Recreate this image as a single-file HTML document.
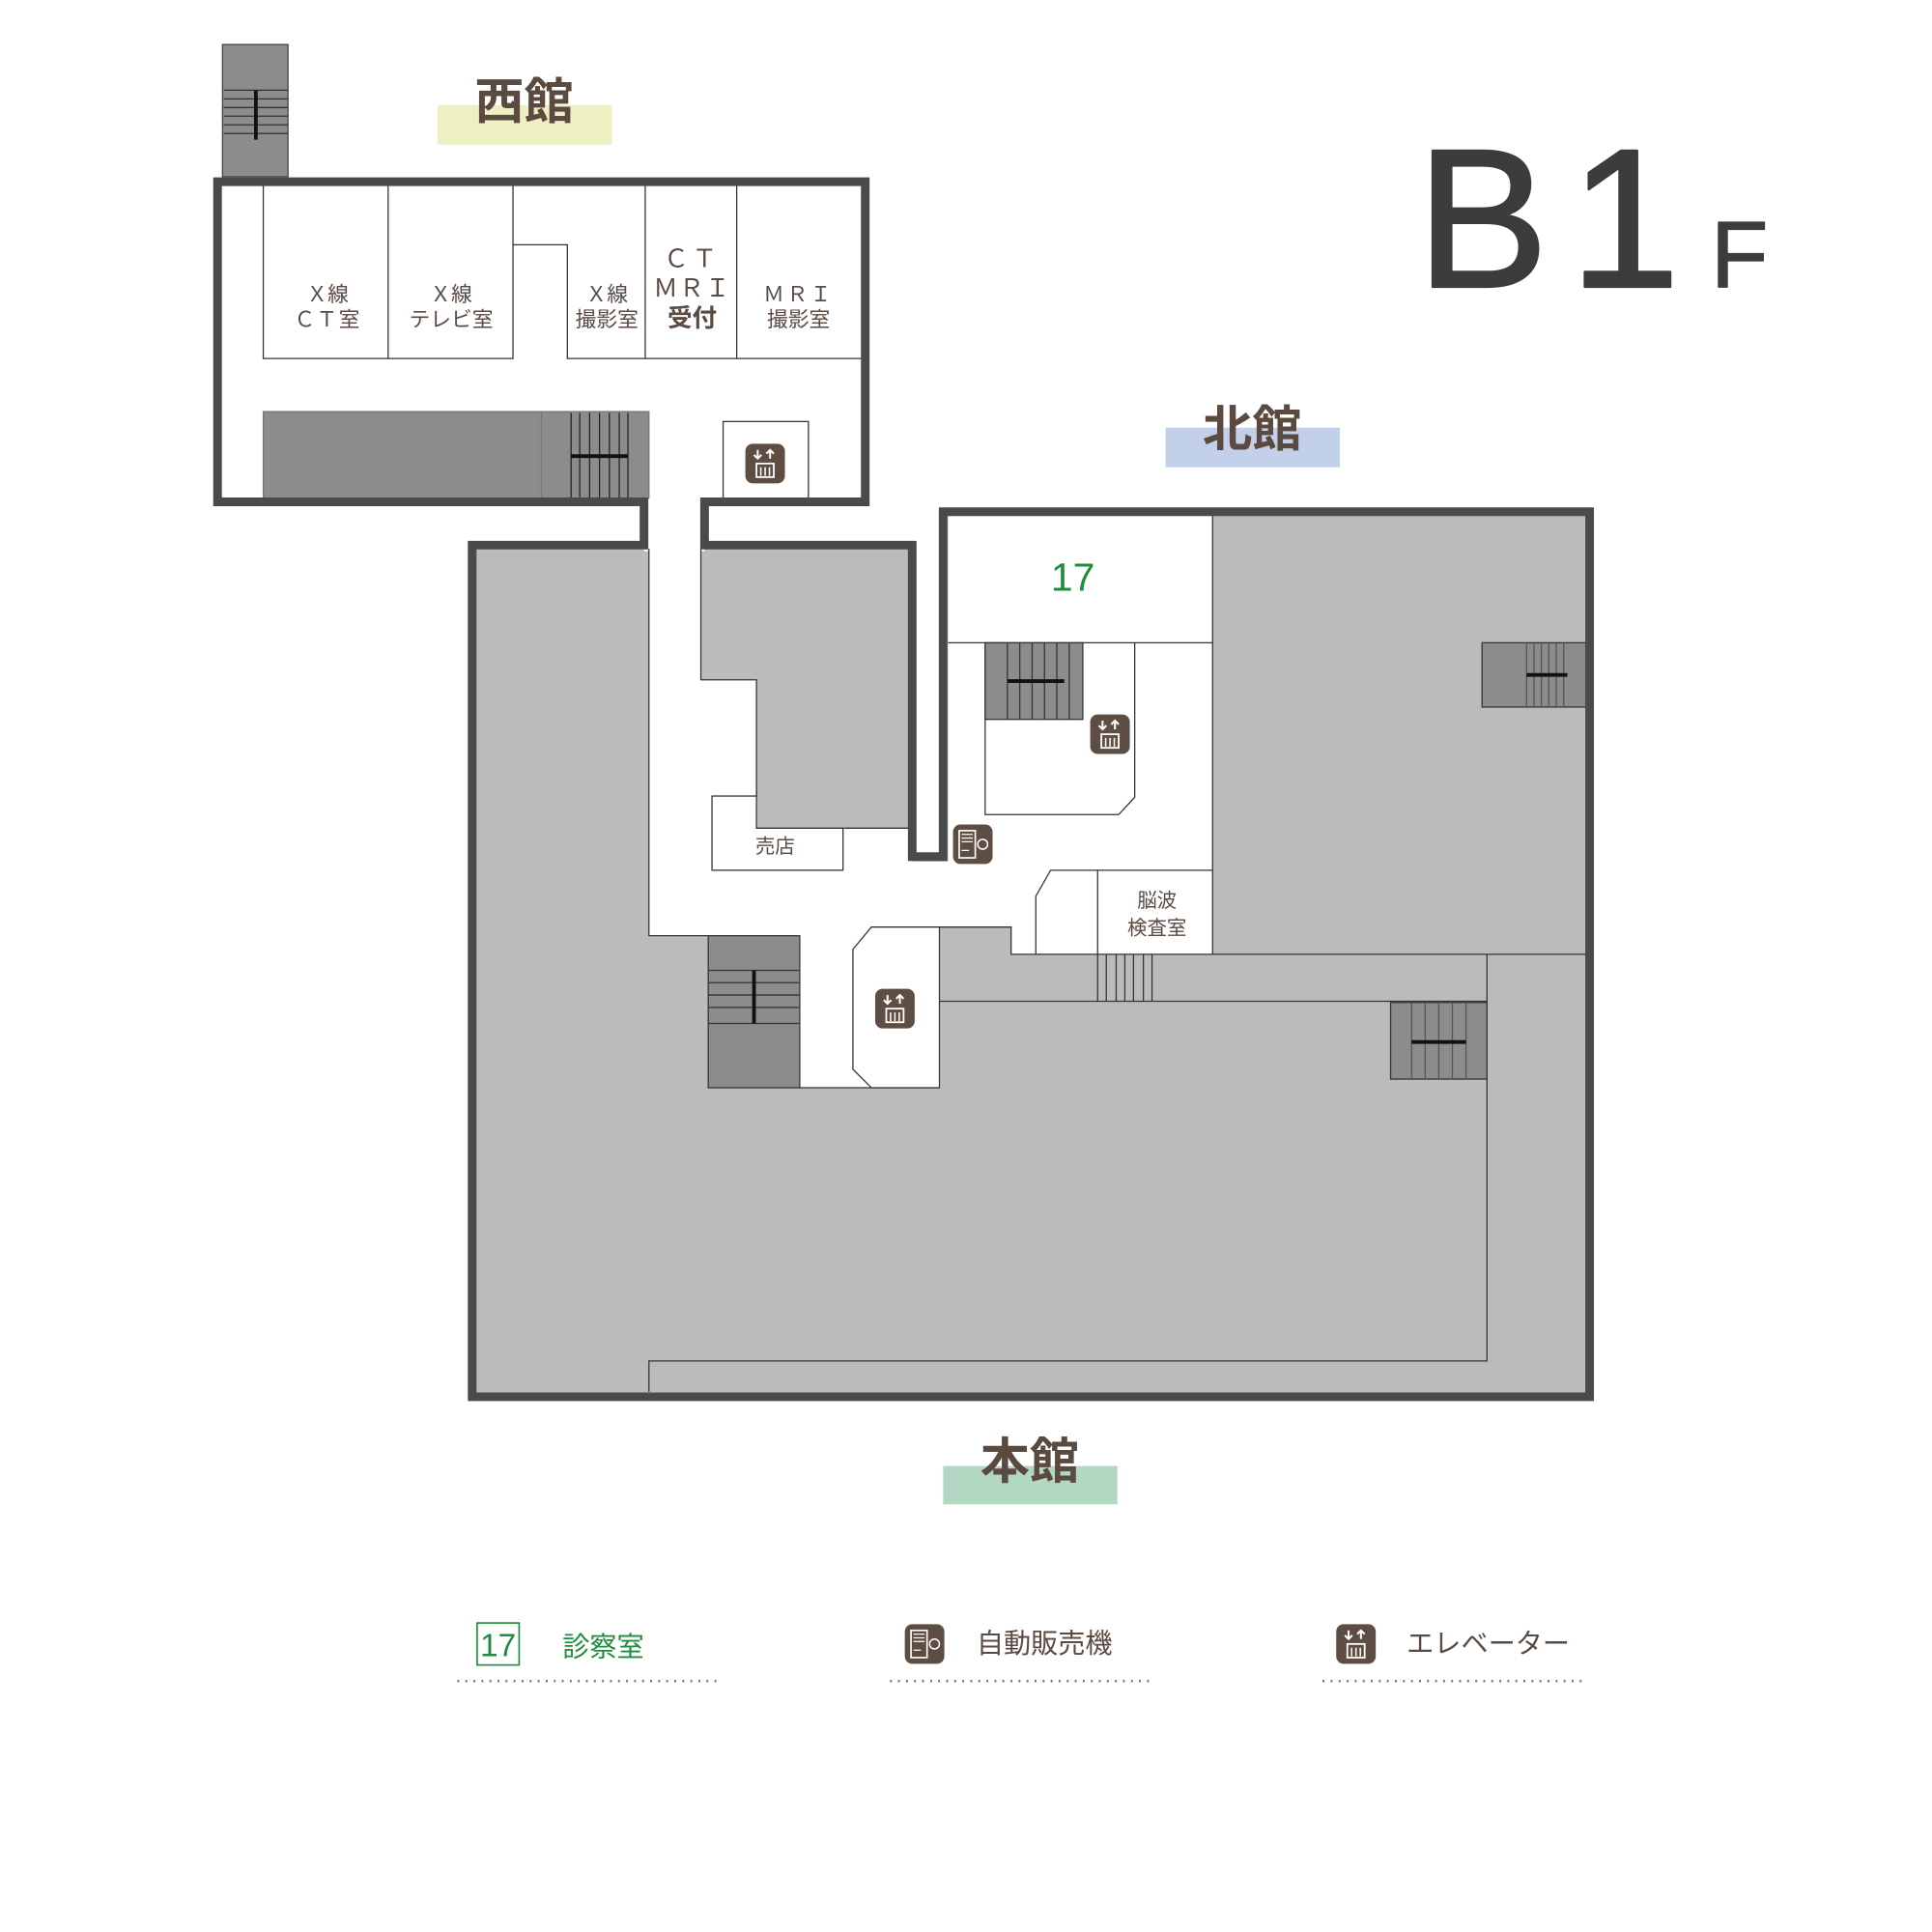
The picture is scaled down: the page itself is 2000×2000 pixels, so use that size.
<!DOCTYPE html>
<html><head><meta charset="utf-8"><style>
html,body{margin:0;padding:0;background:#fff}
svg{display:block}
text{font-family:"Liberation Sans","Noto Sans CJK JP",sans-serif}
</style></head><body>
<svg width="2000" height="2000" viewBox="0 0 1563 1563" xmlns="http://www.w3.org/2000/svg">
<defs>
<g id="elev">
<rect x="-16" y="-16" width="32" height="32" rx="6" fill="#5d4d42"/>
<path d="M-6,-11 v7 M-9,-7 l3,3 l3,-3 M4,-4 v-7 M1,-8 l3,-3 l3,3" stroke="#fff" stroke-width="1.6" fill="none"/>
<rect x="-7" y="0" width="14" height="11" fill="none" stroke="#fff" stroke-width="1.4"/>
<path d="M-3.5,3 v7 M0,3 v7 M3.5,3 v7" stroke="#fff" stroke-width="1.2"/>
</g>
<g id="vend">
<rect x="-16" y="-16" width="32" height="32" rx="6" fill="#5d4d42"/>
<rect x="-11" y="-11" width="13" height="22" fill="none" stroke="#fff" stroke-width="1.3"/>
<path d="M-9,-8 h9 M-9,-5 h9 M-9,-2 h9 M-9,5 h6" stroke="#fff" stroke-width="1"/>
<circle cx="8" cy="0" r="4" fill="none" stroke="#fff" stroke-width="1.2"/>
</g>
</defs>

<rect x="180" y="36" width="53" height="107" fill="#8c8c8c" stroke="#444" stroke-width="1"/>
<path d="M181,73 h52 M181,80 h52 M181,87 h52 M181,94 h52 M181,101 h52 M181,108 h52" stroke="#333" stroke-width="1"/>
<path d="M207,73 v40" stroke="#111" stroke-width="3"/>

<path d="M382,1130 V441 H521 V406 H176 V147 H700 V406 H570 V441 H738 V693 H763 V414 H1286 V1130 Z" fill="#bbbbbb"/>
<rect x="176" y="147" width="524" height="259" fill="#fff"/>
<rect x="521" y="400" width="49" height="46" fill="#fff"/>
<path d="M525,444 H567 V550 H612 V670 H738 V697 H767 V417 H981 V772 H818 V750 H760 V880 H647 V757 H525 Z" fill="#fff"/>

<g stroke="#333" stroke-width="1" fill="none">
<path d="M213,150 V290 H415 V150 M314,150 V290 M415,198 H459 V290 H697 M522,150 V290 M596,150 V290"/>
</g>
<rect x="213" y="333" width="312" height="70" fill="#8c8c8c" stroke="#777" stroke-width="1"/>
<path d="M438,333 V403" stroke="#777" stroke-width="1"/>
<path d="M462,334 V403 M469,334 V403 M477,334 V403 M485,334 V403 M493,334 V403 M501,334 V403 M508,334 V403" stroke="#222" stroke-width="1"/>
<path d="M462,369 H508" stroke="#111" stroke-width="3"/>
<rect x="585" y="341" width="69" height="62" fill="#fff" stroke="#333" stroke-width="1"/>
<use href="#elev" x="619" y="375"/>

<g stroke="#333" stroke-width="1" fill="none">
<path d="M567,444 V550 H612 V670 H735"/>
<rect x="576" y="644" width="106" height="60" fill="#fff"/>
<path d="M525,444 V757 H573"/>
<path d="M767,520 H981 M981,417 V772 M797,520 V659 H905 L918,645 V520"/>
<path d="M838,772 V725 L850,704 H981 M888,704 V772"/>
<path d="M760,750 H818 V772 H1283 M760,810 H1203 M1203,772 V1101 H525 V1126"/>
<path d="M888,772 V810 M895,772 V810 M903,772 V810 M910,772 V810 M917,772 V810 M925,772 V810 M932,772 V810"/>
<path d="M647,880 H760"/>
</g>
<rect x="612.5" y="642" width="71" height="28" fill="#bbbbbb"/>
<path d="M612,640 V670 H683" stroke="#333" fill="none"/>
<path d="M690,768 L705,750 H760 V880 H705 L690,865 Z" fill="#fff" stroke="#333" stroke-width="1"/>
<use href="#elev" x="724" y="816"/>

<rect x="573" y="757" width="74" height="123" fill="#8c8c8c" stroke="#333" stroke-width="1"/>
<path d="M573,785 h74 M573,795 h74 M573,805 h74 M573,815 h74 M573,828 h74" stroke="#333" stroke-width="1"/>
<path d="M610,785 V828" stroke="#111" stroke-width="3"/>

<rect x="797" y="520" width="79" height="62" fill="#8c8c8c" stroke="#333" stroke-width="1"/>
<path d="M815,520 v62 M825,520 v62 M835,520 v62 M845,520 v62 M855,520 v62 M865,520 v62" stroke="#333" stroke-width="1"/>
<path d="M815,551 H861" stroke="#111" stroke-width="3"/>
<use href="#elev" x="898" y="594"/>
<use href="#vend" x="787" y="683"/>

<rect x="1199" y="520" width="84" height="52" fill="#8c8c8c" stroke="#333" stroke-width="1"/>
<path d="M1235,520 v52 M1241,520 v52 M1247,520 v52 M1253,520 v52 M1259,520 v52 M1265,520 v52" stroke="#555" stroke-width="1"/>
<path d="M1235,546 H1268" stroke="#111" stroke-width="3"/>
<rect x="1125" y="811" width="78" height="62" fill="#8c8c8c" stroke="#333" stroke-width="1"/>
<path d="M1142,811 v62 M1153,811 v62 M1164,811 v62 M1175,811 v62 M1186,811 v62" stroke="#555" stroke-width="1"/>
<path d="M1142,843 H1186" stroke="#111" stroke-width="3"/>

<path d="M382,1130 V441 H521 V406 H176 V147 H700 V406 H570 V441 H738 V693 H763 V414 H1286 V1130 Z" fill="none" stroke="#4a4a4a" stroke-width="7"/>

<g fill="#5a4a42" font-size="17" text-anchor="middle">
<text x="265" y="244">Ｘ線</text><text x="265" y="264" letter-spacing="1">ＣＴ室</text>
<text x="365" y="244">Ｘ線</text><text x="365" y="264">テレビ室</text>
<text x="491" y="244">Ｘ線</text><text x="491" y="264">撮影室</text>
<text x="560" y="216" font-size="20" letter-spacing="3">ＣＴ</text>
<text x="560" y="240" font-size="20" letter-spacing="1">ＭＲＩ</text>
<text x="560" y="264" font-size="20" font-weight="bold">受付</text>
<text x="646" y="244" letter-spacing="2">ＭＲＩ</text><text x="646" y="264">撮影室</text>
<text x="627" y="690" font-size="16">売店</text>
<text x="936" y="734" font-size="16">脳波</text><text x="936" y="756" font-size="16">検査室</text>
</g>
<text x="868" y="478" font-size="32" fill="#1e8c3c" text-anchor="middle">17</text>

<rect x="354" y="85" width="141" height="32" fill="#eff0c2"/>
<text x="424" y="96" font-size="40" font-weight="bold" fill="#5b4a3f" text-anchor="middle">西館</text>
<rect x="943" y="346" width="141" height="32" fill="#c3d0ea"/>
<text x="1013" y="361" font-size="40" font-weight="bold" fill="#5b4a3f" text-anchor="middle">北館</text>
<rect x="763" y="1186" width="141" height="31" fill="#b2d8c4"/>
<text x="833" y="1196" font-size="40" font-weight="bold" fill="#5b4a3f" text-anchor="middle">本館</text>

<text x="1146" y="232" font-size="160" fill="#3c3c3e" stroke="#3c3c3e" stroke-width="2" stroke-linejoin="round">B</text>
<text x="1270" y="232" font-size="160" fill="#3c3c3e" stroke="#3c3c3e" stroke-width="2" stroke-linejoin="round">1</text>
<text x="1384" y="232" font-size="76" fill="#3c3c3e" stroke="#3c3c3e" stroke-width="1" stroke-linejoin="round">F</text>

<rect x="386" y="1313" width="34" height="34" fill="none" stroke="#1e8c3c" stroke-width="1.3"/>
<text x="403" y="1340" font-size="26" fill="#1e8c3c" text-anchor="middle">17</text>
<text x="455" y="1340" font-size="22" fill="#1e8c3c">診察室</text>
<use href="#vend" x="748" y="1330"/>
<text x="790" y="1337" font-size="22" fill="#5a4a42">自動販売機</text>
<use href="#elev" x="1097" y="1330"/>
<text x="1138" y="1337" font-size="22" fill="#5a4a42">エレベーター</text>
<g stroke="#777" stroke-width="2" stroke-dasharray="1.5 5">
<path d="M370,1360 H582 M720,1360 H932 M1070,1360 H1282"/>
</g>
</svg>
</body></html>
